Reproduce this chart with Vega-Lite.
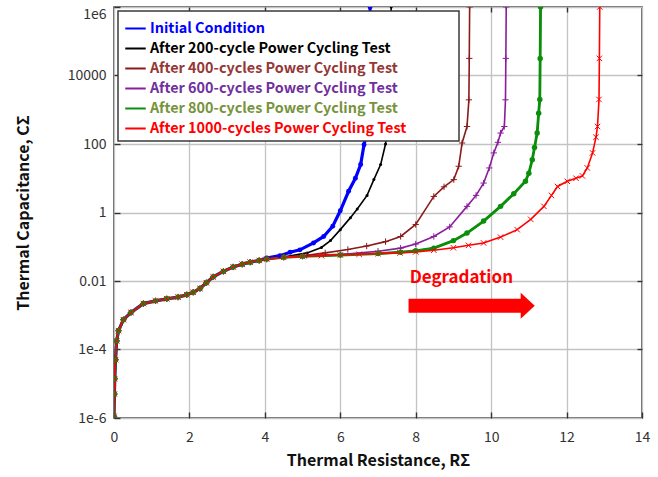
{
  "$schema": "https://vega.github.io/schema/vega-lite/v6.json",
  "width": 528,
  "height": 411,
  "autosize": {"type": "none"},
  "padding": {"left": 114, "top": 7, "right": 16, "bottom": 59},
  "background": "white",
  "config": {
    "font": "Noto Sans CJK KR",
    "view": {"stroke": "#3a3a3a", "strokeWidth": 1.5},
    "axis": {
      "gridColor": "#c3c3c3",
      "gridWidth": 1.3,
      "domain": false,
      "ticks": true,
      "tickSize": -6,
      "tickColor": "#333333",
      "tickWidth": 1.4,
      "labelFont": "Noto Sans CJK KR",
      "labelFontSize": 14,
      "labelColor": "#333333",
      "titleFont": "Noto Sans CJK KR",
      "titleFontSize": 16,
      "titleFontWeight": "bold",
      "titleColor": "#111111"
    },
    "legend": {"strokeWidth": 1.5}
  },
  "layer": [
    {
      "data": {
        "values": [
          {"s": 0, "x": 0, "c": 1.12e-6}, {"s": 0, "x": 0.01, "c": 5.01e-6}, {"s": 0, "x": 0.02, "c": 1.41e-5}, {"s": 0, "x": 0.04, "c": 5.01e-5}, {"s": 0, "x": 0.07, "c": 1.78e-4}, {"s": 0, "x": 0.12, "c": 3.55e-4}, {"s": 0, "x": 0.25, "c": 7.41e-4}, {"s": 0, "x": 0.45, "c": 1.2e-3}, {"s": 0, "x": 0.78, "c": 2.19e-3}, {"s": 0, "x": 1.1, "c": 2.63e-3}, {"s": 0, "x": 1.4, "c": 3.02e-3}, {"s": 0, "x": 1.7, "c": 3.39e-3}, {"s": 0, "x": 1.93, "c": 3.98e-3}, {"s": 0, "x": 2.1, "c": 4.68e-3}, {"s": 0, "x": 2.28, "c": 6.03e-3}, {"s": 0, "x": 2.45, "c": 8.91e-3}, {"s": 0, "x": 2.63, "c": 1.32e-2}, {"s": 0, "x": 2.9, "c": 1.91e-2}, {"s": 0, "x": 3.16, "c": 2.57e-2}, {"s": 0, "x": 3.4, "c": 3.09e-2}, {"s": 0, "x": 3.61, "c": 3.55e-2}, {"s": 0, "x": 3.85, "c": 3.98e-2},
          {"s": 0, "x": 4.05, "c": 4.68e-2}, {"s": 0, "x": 4.4, "c": 5.5e-2}, {"s": 0, "x": 4.67, "c": 6.92e-2}, {"s": 0, "x": 4.93, "c": 8.13e-2}, {"s": 0, "x": 5.29, "c": 0.129}, {"s": 0, "x": 5.56, "c": 0.2}, {"s": 0, "x": 5.8, "c": 0.398}, {"s": 0, "x": 6.0, "c": 1.12}, {"s": 0, "x": 6.22, "c": 4.17}, {"s": 0, "x": 6.4, "c": 10}, {"s": 0, "x": 6.54, "c": 25.1}, {"s": 0, "x": 6.63, "c": 95.5}, {"s": 0, "x": 6.7, "c": 200}, {"s": 0, "x": 6.74, "c": 1000}, {"s": 0, "x": 6.77, "c": 10000}, {"s": 0, "x": 6.79, "c": 1000000},

          {"s": 200, "x": 0, "c": 1.12e-6}, {"s": 200, "x": 0.01, "c": 5.01e-6}, {"s": 200, "x": 0.02, "c": 1.41e-5}, {"s": 200, "x": 0.04, "c": 5.01e-5}, {"s": 200, "x": 0.07, "c": 1.78e-4}, {"s": 200, "x": 0.12, "c": 3.55e-4}, {"s": 200, "x": 0.25, "c": 7.41e-4}, {"s": 200, "x": 0.45, "c": 1.2e-3}, {"s": 200, "x": 0.78, "c": 2.19e-3}, {"s": 200, "x": 1.1, "c": 2.63e-3}, {"s": 200, "x": 1.4, "c": 3.02e-3}, {"s": 200, "x": 1.7, "c": 3.39e-3}, {"s": 200, "x": 1.93, "c": 3.98e-3}, {"s": 200, "x": 2.1, "c": 4.68e-3}, {"s": 200, "x": 2.28, "c": 6.03e-3}, {"s": 200, "x": 2.45, "c": 8.91e-3}, {"s": 200, "x": 2.63, "c": 1.32e-2}, {"s": 200, "x": 2.9, "c": 1.91e-2}, {"s": 200, "x": 3.16, "c": 2.57e-2}, {"s": 200, "x": 3.4, "c": 3.09e-2}, {"s": 200, "x": 3.61, "c": 3.55e-2}, {"s": 200, "x": 3.85, "c": 3.98e-2}, {"s": 200, "x": 4.05, "c": 4.37e-2},
          {"s": 200, "x": 4.5, "c": 5.01e-2}, {"s": 200, "x": 5.12, "c": 6.61e-2}, {"s": 200, "x": 5.5, "c": 9.55e-2}, {"s": 200, "x": 5.74, "c": 0.151}, {"s": 200, "x": 6.0, "c": 0.316}, {"s": 200, "x": 6.27, "c": 0.708}, {"s": 200, "x": 6.45, "c": 1.26}, {"s": 200, "x": 6.71, "c": 3.16}, {"s": 200, "x": 6.89, "c": 9.12}, {"s": 200, "x": 7.07, "c": 25.1}, {"s": 200, "x": 7.2, "c": 100}, {"s": 200, "x": 7.28, "c": 631}, {"s": 200, "x": 7.32, "c": 10000}, {"s": 200, "x": 7.35, "c": 1000000},

          {"s": 400, "x": 0, "c": 1.12e-6}, {"s": 400, "x": 0.01, "c": 5.01e-6}, {"s": 400, "x": 0.02, "c": 1.41e-5}, {"s": 400, "x": 0.04, "c": 5.01e-5}, {"s": 400, "x": 0.07, "c": 1.78e-4}, {"s": 400, "x": 0.12, "c": 3.55e-4}, {"s": 400, "x": 0.25, "c": 7.41e-4}, {"s": 400, "x": 0.45, "c": 1.2e-3}, {"s": 400, "x": 0.78, "c": 2.19e-3}, {"s": 400, "x": 1.1, "c": 2.63e-3}, {"s": 400, "x": 1.4, "c": 3.02e-3}, {"s": 400, "x": 1.7, "c": 3.39e-3}, {"s": 400, "x": 1.93, "c": 3.98e-3}, {"s": 400, "x": 2.1, "c": 4.68e-3}, {"s": 400, "x": 2.28, "c": 6.03e-3}, {"s": 400, "x": 2.45, "c": 8.91e-3}, {"s": 400, "x": 2.63, "c": 1.32e-2}, {"s": 400, "x": 2.9, "c": 1.91e-2}, {"s": 400, "x": 3.16, "c": 2.57e-2}, {"s": 400, "x": 3.4, "c": 3.09e-2}, {"s": 400, "x": 3.61, "c": 3.55e-2}, {"s": 400, "x": 3.85, "c": 3.98e-2}, {"s": 400, "x": 4.05, "c": 4.37e-2},
          {"s": 400, "x": 4.5, "c": 5.01e-2}, {"s": 400, "x": 5.11, "c": 5.62e-2}, {"s": 400, "x": 5.6, "c": 6.61e-2}, {"s": 400, "x": 6.2, "c": 8.32e-2}, {"s": 400, "x": 6.7, "c": 0.105}, {"s": 400, "x": 7.2, "c": 0.141}, {"s": 400, "x": 7.6, "c": 0.2}, {"s": 400, "x": 8.0, "c": 0.447}, {"s": 400, "x": 8.48, "c": 2.95}, {"s": 400, "x": 8.75, "c": 5.62}, {"s": 400, "x": 9.01, "c": 9.12}, {"s": 400, "x": 9.14, "c": 22.4}, {"s": 400, "x": 9.23, "c": 107}, {"s": 400, "x": 9.36, "c": 324}, {"s": 400, "x": 9.41, "c": 1950}, {"s": 400, "x": 9.42, "c": 31600}, {"s": 400, "x": 9.43, "c": 1000000},

          {"s": 600, "x": 0, "c": 1.12e-6}, {"s": 600, "x": 0.01, "c": 5.01e-6}, {"s": 600, "x": 0.02, "c": 1.41e-5}, {"s": 600, "x": 0.04, "c": 5.01e-5}, {"s": 600, "x": 0.07, "c": 1.78e-4}, {"s": 600, "x": 0.12, "c": 3.55e-4}, {"s": 600, "x": 0.25, "c": 7.41e-4}, {"s": 600, "x": 0.45, "c": 1.2e-3}, {"s": 600, "x": 0.78, "c": 2.19e-3}, {"s": 600, "x": 1.1, "c": 2.63e-3}, {"s": 600, "x": 1.4, "c": 3.02e-3}, {"s": 600, "x": 1.7, "c": 3.39e-3}, {"s": 600, "x": 1.93, "c": 3.98e-3}, {"s": 600, "x": 2.1, "c": 4.68e-3}, {"s": 600, "x": 2.28, "c": 6.03e-3}, {"s": 600, "x": 2.45, "c": 8.91e-3}, {"s": 600, "x": 2.63, "c": 1.32e-2}, {"s": 600, "x": 2.9, "c": 1.91e-2}, {"s": 600, "x": 3.16, "c": 2.57e-2}, {"s": 600, "x": 3.4, "c": 3.09e-2}, {"s": 600, "x": 3.61, "c": 3.55e-2}, {"s": 600, "x": 3.85, "c": 3.98e-2}, {"s": 600, "x": 4.05, "c": 4.37e-2},
          {"s": 600, "x": 4.5, "c": 4.9e-2}, {"s": 600, "x": 5.0, "c": 5.25e-2}, {"s": 600, "x": 6.0, "c": 5.89e-2}, {"s": 600, "x": 7.0, "c": 7.41e-2}, {"s": 600, "x": 7.6, "c": 9.12e-2}, {"s": 600, "x": 8.0, "c": 0.12}, {"s": 600, "x": 8.48, "c": 0.2}, {"s": 600, "x": 8.9, "c": 0.38}, {"s": 600, "x": 9.36, "c": 1.51}, {"s": 600, "x": 9.6, "c": 3.16}, {"s": 600, "x": 9.8, "c": 7.24}, {"s": 600, "x": 9.95, "c": 20}, {"s": 600, "x": 10.07, "c": 55}, {"s": 600, "x": 10.18, "c": 112}, {"s": 600, "x": 10.25, "c": 209}, {"s": 600, "x": 10.35, "c": 324}, {"s": 600, "x": 10.38, "c": 1950}, {"s": 600, "x": 10.39, "c": 31600}, {"s": 600, "x": 10.4, "c": 1000000},

          {"s": 800, "x": 0, "c": 1.12e-6}, {"s": 800, "x": 0.01, "c": 5.01e-6}, {"s": 800, "x": 0.02, "c": 1.41e-5}, {"s": 800, "x": 0.04, "c": 5.01e-5}, {"s": 800, "x": 0.07, "c": 1.78e-4}, {"s": 800, "x": 0.12, "c": 3.55e-4}, {"s": 800, "x": 0.25, "c": 7.41e-4}, {"s": 800, "x": 0.45, "c": 1.2e-3}, {"s": 800, "x": 0.78, "c": 2.19e-3}, {"s": 800, "x": 1.1, "c": 2.63e-3}, {"s": 800, "x": 1.4, "c": 3.02e-3}, {"s": 800, "x": 1.7, "c": 3.39e-3}, {"s": 800, "x": 1.93, "c": 3.98e-3}, {"s": 800, "x": 2.1, "c": 4.68e-3}, {"s": 800, "x": 2.28, "c": 6.03e-3}, {"s": 800, "x": 2.45, "c": 8.91e-3}, {"s": 800, "x": 2.63, "c": 1.32e-2}, {"s": 800, "x": 2.9, "c": 1.91e-2}, {"s": 800, "x": 3.16, "c": 2.57e-2}, {"s": 800, "x": 3.4, "c": 3.09e-2}, {"s": 800, "x": 3.61, "c": 3.55e-2}, {"s": 800, "x": 3.85, "c": 3.98e-2}, {"s": 800, "x": 4.05, "c": 4.37e-2},
          {"s": 800, "x": 4.5, "c": 4.9e-2}, {"s": 800, "x": 5.0, "c": 5.25e-2}, {"s": 800, "x": 6.0, "c": 5.75e-2}, {"s": 800, "x": 7.0, "c": 6.31e-2}, {"s": 800, "x": 7.6, "c": 6.92e-2}, {"s": 800, "x": 8.0, "c": 7.59e-2}, {"s": 800, "x": 8.48, "c": 9.12e-2}, {"s": 800, "x": 9.0, "c": 0.151}, {"s": 800, "x": 9.36, "c": 0.251}, {"s": 800, "x": 9.8, "c": 0.562}, {"s": 800, "x": 10.25, "c": 1.51}, {"s": 800, "x": 10.6, "c": 3.55}, {"s": 800, "x": 10.91, "c": 8.13}, {"s": 800, "x": 11.0, "c": 14.1}, {"s": 800, "x": 11.09, "c": 34.7}, {"s": 800, "x": 11.15, "c": 79.4}, {"s": 800, "x": 11.22, "c": 209}, {"s": 800, "x": 11.26, "c": 794}, {"s": 800, "x": 11.29, "c": 2000}, {"s": 800, "x": 11.3, "c": 31600}, {"s": 800, "x": 11.31, "c": 1000000},

          {"s": 1000, "x": 0, "c": 1.12e-6}, {"s": 1000, "x": 0.01, "c": 5.01e-6}, {"s": 1000, "x": 0.02, "c": 1.41e-5}, {"s": 1000, "x": 0.04, "c": 5.01e-5}, {"s": 1000, "x": 0.07, "c": 1.78e-4}, {"s": 1000, "x": 0.12, "c": 3.55e-4}, {"s": 1000, "x": 0.25, "c": 7.41e-4}, {"s": 1000, "x": 0.45, "c": 1.2e-3}, {"s": 1000, "x": 0.78, "c": 2.19e-3}, {"s": 1000, "x": 1.1, "c": 2.63e-3}, {"s": 1000, "x": 1.4, "c": 3.02e-3}, {"s": 1000, "x": 1.7, "c": 3.39e-3}, {"s": 1000, "x": 1.93, "c": 3.98e-3}, {"s": 1000, "x": 2.1, "c": 4.68e-3}, {"s": 1000, "x": 2.28, "c": 6.03e-3}, {"s": 1000, "x": 2.45, "c": 8.91e-3}, {"s": 1000, "x": 2.63, "c": 1.32e-2}, {"s": 1000, "x": 2.9, "c": 1.91e-2}, {"s": 1000, "x": 3.16, "c": 2.57e-2}, {"s": 1000, "x": 3.4, "c": 3.09e-2}, {"s": 1000, "x": 3.61, "c": 3.55e-2}, {"s": 1000, "x": 3.85, "c": 3.98e-2}, {"s": 1000, "x": 4.05, "c": 4.37e-2},
          {"s": 1000, "x": 4.5, "c": 4.9e-2}, {"s": 1000, "x": 5.0, "c": 5.25e-2}, {"s": 1000, "x": 5.5, "c": 5.5e-2}, {"s": 1000, "x": 6.0, "c": 5.75e-2}, {"s": 1000, "x": 6.5, "c": 6.03e-2}, {"s": 1000, "x": 7.0, "c": 6.31e-2}, {"s": 1000, "x": 7.58, "c": 6.61e-2}, {"s": 1000, "x": 8.0, "c": 7.08e-2}, {"s": 1000, "x": 8.48, "c": 7.94e-2}, {"s": 1000, "x": 9.0, "c": 9.33e-2}, {"s": 1000, "x": 9.4, "c": 0.11}, {"s": 1000, "x": 9.8, "c": 0.129}, {"s": 1000, "x": 10.25, "c": 0.191}, {"s": 1000, "x": 10.69, "c": 0.316}, {"s": 1000, "x": 11.05, "c": 0.631}, {"s": 1000, "x": 11.4, "c": 1.51}, {"s": 1000, "x": 11.6, "c": 3.16}, {"s": 1000, "x": 11.76, "c": 5.75}, {"s": 1000, "x": 12.02, "c": 8.13}, {"s": 1000, "x": 12.25, "c": 10}, {"s": 1000, "x": 12.42, "c": 11.7}, {"s": 1000, "x": 12.55, "c": 20}, {"s": 1000, "x": 12.69, "c": 55}, {"s": 1000, "x": 12.78, "c": 158}, {"s": 1000, "x": 12.82, "c": 324}, {"s": 1000, "x": 12.86, "c": 2000}, {"s": 1000, "x": 12.87, "c": 31600}, {"s": 1000, "x": 12.88, "c": 1000000}
        ]
      },
      "encoding": {
        "x": {
          "field": "x", "type": "quantitative",
          "scale": {"domain": [0, 14], "nice": false, "zero": false},
          "axis": {"orient": "bottom", "values": [0, 2, 4, 6, 8, 10, 12, 14], "format": "d", "labelFlush": false, "labelPadding": 18, "title": "Thermal Resistance, RΣ", "titlePadding": 8}
        },
        "y": {
          "field": "c", "type": "quantitative",
          "scale": {"type": "log", "domain": [1e-6, 1000000], "nice": false},
          "axis": {
            "orient": "left",
            "values": [1e-6, 1e-4, 0.01, 1, 100, 10000, 1000000],
            "labelExpr": "datum.value > 1e5 ? '1e6' : datum.value > 1e3 ? '10000' : datum.value > 10 ? '100' : datum.value > 0.1 ? '1' : datum.value > 1e-3 ? '0.01' : datum.value > 1e-5 ? '1e-4' : '1e-6'",
            "labelFlush": false,
            "labelBaseline": {"condition": {"test": "datum.value > 1e5", "value": "top"}, "value": "middle"},
            "labelPadding": 14,
            "title": "Thermal Capacitance, CΣ",
            "titlePadding": 36
          }
        }
      },
      "layer": [
        {
          "transform": [{"filter": "datum.s == 0"}],
          "mark": {"type": "line", "strokeWidth": 3.2, "color": "#0000ff", "clip": true}
        },
        {
          "transform": [{"filter": "datum.s == 800"}],
          "mark": {"type": "line", "strokeWidth": 2.8, "color": "#0a8f0a", "clip": true}
        },
        {
          "mark": {"type": "line", "strokeWidth": 1.6, "clip": true},
          "encoding": {
            "color": {
              "field": "s", "type": "nominal",
              "scale": {"domain": [0, 200, 400, 600, 800, 1000], "range": ["#0000ff", "#000000", "#8b1a1a", "#8b1c9c", "#0a8f0a", "#ff0000"]},
              "legend": {
                "title": null,
                "orient": "top-left",
                "offset": 4,
                "labelExpr": "(datum.value == 0 ? 'Initial Condition' : datum.value == 200 ? 'After 200-cycle Power Cycling Test' : 'After ' + datum.value + '-cycles Power Cycling Test') + '\u00a0\u00a0\u00a0\u00a0\u00a0\u00a0\u00a0\u00a0\u00a0\u00a0\u00a0\u2800'",
                "labelColor": {"expr": "['#0000ff','#000000','#953735','#7030a0','#77933c','#ff0000'][indexof([0,200,400,600,800,1000], +datum.value)]"},
                "labelFont": "Noto Sans CJK KR",
                "labelFontSize": 14.4,
                "labelFontWeight": "bold",
                "labelLimit": 600,
                "labelOffset": 3,
                "symbolType": "stroke",
                "symbolSize": 420,
                "symbolStrokeWidth": 2,
                "rowPadding": 2,
                "padding": 6,
                "fillColor": "white",
                "strokeColor": "#3a3a3a"
              }
            }
          }
        },
        {
          "transform": [{"filter": "datum.s == 0"}],
          "mark": {"type": "point", "shape": "circle", "filled": true, "size": 24, "color": "#0000ff", "opacity": 1, "clip": true}
        },
        {
          "transform": [{"filter": "datum.s == 200"}],
          "mark": {"type": "point", "shape": "circle", "filled": true, "size": 9, "color": "#000000", "opacity": 1, "clip": true}
        },
        {
          "transform": [{"filter": "datum.s == 400"}],
          "mark": {"type": "point", "shape": "M-1,0L1,0M0,-1L0,1", "filled": false, "size": 40, "strokeWidth": 1, "color": "#8b1a1a", "opacity": 1, "clip": true}
        },
        {
          "transform": [{"filter": "datum.s == 600"}],
          "mark": {"type": "point", "shape": "M-1,0L1,0M0,-1L0,1", "filled": false, "size": 40, "strokeWidth": 1, "color": "#8b1c9c", "opacity": 1, "clip": true}
        },
        {
          "transform": [{"filter": "datum.s == 800"}],
          "mark": {"type": "point", "shape": "circle", "filled": true, "size": 30, "color": "#0a8f0a", "opacity": 1, "clip": true}
        },
        {
          "transform": [{"filter": "datum.s == 1000"}],
          "mark": {"type": "point", "shape": "M-1,-1L1,1M-1,1L1,-1", "filled": false, "size": 30, "strokeWidth": 1, "color": "#ff0000", "opacity": 1, "clip": true}
        },
        {
          "data": {"values": [{"x": 7.81, "x2": 10.8, "c": 0.0019}]},
          "mark": {"type": "rule", "color": "#ff0000", "strokeWidth": 14, "strokeCap": "butt"},
          "encoding": {"x2": {"field": "x2"}}
        },
        {
          "data": {"values": [{"x": 10.97, "c": 0.0019}]},
          "mark": {"type": "point", "shape": "M-0.54,-1L0.54,0L-0.54,1Z", "filled": true, "size": 676, "color": "#ff0000", "opacity": 1}
        }
      ]
    },
    {
      "data": {"values": [{"x": 9.21, "c": 0.0126, "t": "Degradation"}]},
      "mark": {"type": "text", "color": "#ff0000", "fontSize": 17, "fontWeight": "bold", "font": "Noto Sans CJK KR"},
      "encoding": {
        "x": {
          "field": "x", "type": "quantitative",
          "scale": {"domain": [0, 14], "nice": false, "zero": false},
          "axis": {"orient": "top", "values": [2, 4, 6, 8, 10, 12], "labels": false, "grid": false, "title": null, "tickSize": -5}
        },
        "y": {
          "field": "c", "type": "quantitative",
          "scale": {"type": "log", "domain": [1e-6, 1000000], "nice": false},
          "axis": {"orient": "right", "values": [1e-4, 0.01, 1, 100, 10000], "labels": false, "grid": false, "title": null, "tickSize": -5}
        },
        "text": {"field": "t"}
      }
    }
  ],
  "resolve": {"scale": {"x": "independent", "y": "independent"}}
}
